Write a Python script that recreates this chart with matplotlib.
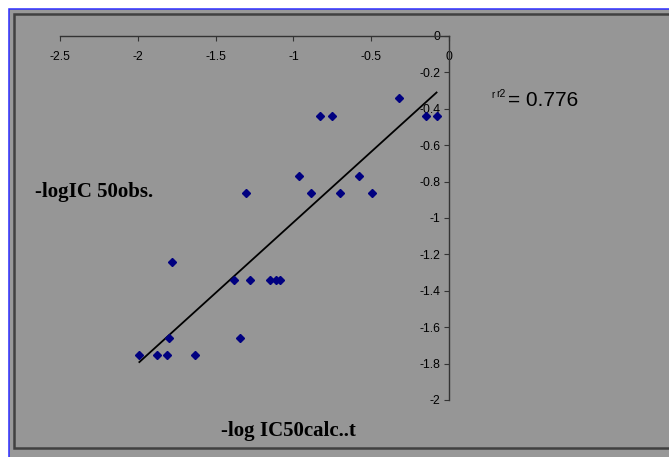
import matplotlib
matplotlib.use("Agg")
import matplotlib.pyplot as plt
import numpy as np
from matplotlib.patches import Rectangle

# data
calc = [-1.99, -1.875, -1.815, -1.80, -1.78, -1.635, -1.38, -1.34, -1.305,
        -1.28, -1.15, -1.115, -1.085, -0.965, -0.885, -0.83, -0.755, -0.70,
        -0.58, -0.495, -0.32, -0.15, -0.08]
obs = [-1.75, -1.75, -1.75, -1.66, -1.24, -1.75, -1.34, -1.66, -0.86,
       -1.34, -1.34, -1.34, -1.34, -0.77, -0.86, -0.44, -0.44, -0.86,
       -0.77, -0.86, -0.34, -0.44, -0.44]
x_ticks = [-2.5, -2, -1.5, -1, -0.5, 0]
x_labels = ["-2.5", "-2", "-1.5", "-1", "-0.5", "0"]
y_ticks = [0, -0.2, -0.4, -0.6, -0.8, -1, -1.2, -1.4, -1.6, -1.8, -2]
y_labels = ["0", "-0.2", "-0.4", "-0.6", "-0.8", "-1", "-1.2", "-1.4", "-1.6", "-1.8", "-2"]
r2_text = "= 0.776"

W, H = 669, 457
fig = plt.figure(figsize=(W / 100, H / 100), dpi=100, facecolor="white")


def fx(px):
    return px / W


def fy(py):
    return 1 - py / H


# outer blue frame and inner dark frame (excel chart area)
fig.patches.append(Rectangle((fx(8.5), fy(470)), fx(700), fy(8.5) - fy(470),
                             transform=fig.transFigure, facecolor="#989898",
                             edgecolor="#2d2dff", linewidth=1.1, zorder=-2))
fig.patches.append(Rectangle((fx(14), fy(448)), fx(700), fy(14) - fy(448),
                             transform=fig.transFigure, facecolor="#969696",
                             edgecolor="#404040", linewidth=1.8, zorder=-1))

ax = fig.add_axes([fx(60), fy(400), fx(449) - fx(60), fy(36) - fy(400)])
ax.set_zorder(1)
ax.set_facecolor("none")
ax.set_xlim(-2.5, 0)
ax.set_ylim(-2, 0)

for s in ["top", "right"]:
    ax.spines[s].set_visible(False)
ax.spines["left"].set_position(("data", 0))
ax.spines["bottom"].set_position(("data", 0))
for s in ["left", "bottom"]:
    ax.spines[s].set_color("#333333")
    ax.spines[s].set_linewidth(1.0)
    ax.spines[s].set_clip_on(False)

ax.set_xticks(x_ticks)
ax.set_xticklabels(x_labels)
ax.set_yticks(y_ticks)
ax.set_yticklabels(y_labels)
ax.tick_params(axis="x", direction="out", length=3.5, width=0.8, color="#333333",
               pad=7.5, labelsize=8.8, labelcolor="black")
ax.tick_params(axis="y", direction="out", length=3.5, width=0.8, color="#333333",
               pad=2.5, labelsize=8.8, labelcolor="black")
for lab in ax.get_xticklabels() + ax.get_yticklabels():
    lab.set_fontfamily("Liberation Sans")

# trendline from least squares fit of the points
k, b = np.polyfit(calc, obs, 1)
tx = np.array([min(calc), max(calc)])
ax.plot(tx, k * tx + b, color="black", linewidth=1.3, clip_on=False, zorder=2)

ax.plot(calc, obs, linestyle="none", marker="D", markersize=4.0,
        color="#000080", clip_on=False, zorder=3)

serif = dict(family="Liberation Serif", weight="bold", fontsize=15)
fig.text(fx(35), fy(192), "-logIC 50obs.", ha="left", va="center", **serif)
fig.text(fx(288), fy(431), "-log IC50calc..t", ha="center", va="center", **serif)

fig.text(fx(491.5), fy(98.5), "r", ha="left", va="baseline", fontsize=7,
         family="Liberation Sans")
fig.text(fx(496.5), fy(97), "r2", ha="left", va="baseline", fontsize=7.5,
         family="Liberation Sans")
fig.text(fx(508), fy(101), r2_text, ha="left", va="center", fontsize=15,
         family="Liberation Sans")

fig.savefig("out.png", dpi=100, facecolor="white")
